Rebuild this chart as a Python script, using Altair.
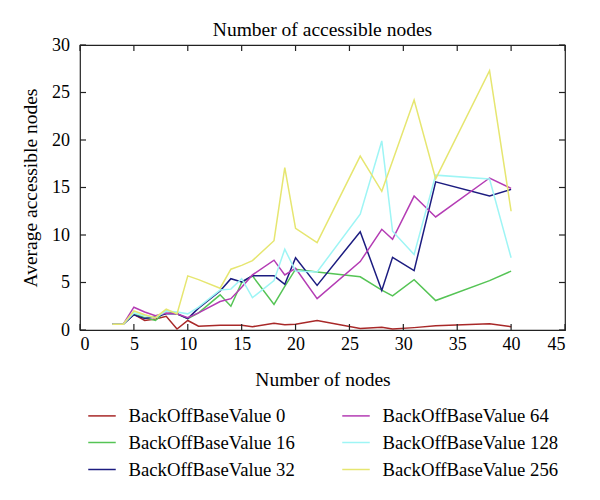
import altair as alt
import pandas as pd

# ---- data ----
nodes = [3, 4, 5, 6, 7, 8, 9, 10, 11, 13, 14, 15, 16, 18, 19, 20, 22, 26, 28, 29, 31, 33, 38, 40]

bobv_0   = [0.6, 0.6, 1.65, 1.0, 1.15, 1.45, 0.1, 1.0, 0.4, 0.5, 0.5, 0.5, 0.35, 0.7, 0.55, 0.6, 1.0, 0.15, 0.3, 0.1, 0.25, 0.45, 0.65, 0.35]
bobv_16  = [0.6, 0.6, 1.7, 1.3, 1.0, 2.0, 1.7, 1.2, 1.8, 3.7, 2.5, 5.0, 5.7, 2.7, 4.6, 6.4, 6.1, 5.6, 4.2, 3.6, 5.3, 3.1, 5.2, 6.2]
bobv_32  = [0.6, 0.6, 1.6, 1.2, 1.4, 1.7, 1.7, 1.2, 2.3, 4.1, 5.4, 5.05, 5.7, 5.7, 4.8, 7.6, 4.7, 10.35, 4.15, 7.65, 6.25, 15.6, 14.1, 14.8]
bobv_64  = [0.6, 0.6, 2.4, 1.9, 1.5, 1.8, 1.7, 1.3, 1.8, 3.0, 3.3, 4.5, 5.8, 7.35, 5.8, 6.5, 3.3, 7.2, 10.6, 9.55, 14.1, 11.9, 16.0, 14.9]
bobv_128 = [0.6, 0.6, 1.8, 1.5, 1.3, 2.0, 1.9, 1.7, 2.4, 4.2, 4.3, 5.4, 3.4, 5.2, 8.5, 6.2, 6.1, 12.2, 19.9, 10.4, 7.95, 16.3, 15.9, 7.6]
bobv_256 = [0.6, 0.6, 2.0, 1.6, 1.3, 2.2, 1.7, 5.7, 5.3, 4.4, 6.4, 6.8, 7.3, 9.4, 17.1, 10.7, 9.2, 18.3, 14.6, 17.8, 24.2, 15.9, 27.3, 12.5]

series_names = ["BackOffBaseValue 0", "BackOffBaseValue 16", "BackOffBaseValue 32",
                "BackOffBaseValue 64", "BackOffBaseValue 128", "BackOffBaseValue 256"]
series_colors = ["#a82828", "#55c455", "#1c1c80", "#b43cb4", "#9ef5f5", "#e6e670"]
series_values = [bobv_0, bobv_16, bobv_32, bobv_64, bobv_128, bobv_256]

x_ticks = [0, 5, 10, 15, 20, 25, 30, 35, 40, 45]
y_ticks = [0, 5, 10, 15, 20, 25, 30]

rows = []
for name, vals in zip(series_names, series_values):
    for x, y in zip(nodes, vals):
        rows.append({"nodes": x, "value": y, "series": name})
df = pd.DataFrame(rows)
xt = pd.DataFrame({"tick": x_ticks})
yt = pd.DataFrame({"tick": y_ticks})

W, H = 485, 285
TL = 6  # tick length
FONT = "Liberation Serif"
xs = alt.Scale(domain=[0, 45], nice=False, zero=False)
ys = alt.Scale(domain=[0, 30], nice=False, zero=False)

x_axis = alt.Axis(values=x_ticks, ticks=False, domain=False, grid=False,
                  labelFontSize=18, labelPadding=5, labelFont=FONT, labelColor="black",
                  title="Number of nodes", titleFontSize=19.5, titleFont=FONT,
                  titleFontWeight="normal", titleColor="black", titlePadding=17)
y_axis = alt.Axis(values=y_ticks, ticks=False, domain=False, grid=False,
                  labelFontSize=18, labelPadding=10.5, labelFont=FONT, labelColor="black",
                  title="Average accessible nodes", titleFontSize=19.5, titleFont=FONT,
                  titleFontWeight="normal", titleColor="black", titlePadding=11.5)

lines = alt.Chart(df).mark_line(strokeWidth=1.5).encode(
    x=alt.X("nodes:Q", scale=xs, axis=x_axis),
    y=alt.Y("value:Q", scale=ys, axis=y_axis),
    color=alt.Color("series:N",
                    scale=alt.Scale(domain=series_names, range=series_colors),
                    legend=alt.Legend(title=None, orient="none", legendX=7.5, legendY=356,
                                      columns=2, columnPadding=43, rowPadding=2,
                                      symbolType="stroke", symbolSize=756, symbolStrokeWidth=1.5,
                                      labelFontSize=18.7, labelFont=FONT, labelColor="black",
                                      labelOffset=12, labelLimit=300)),
)

tick_style = dict(color="#222222", strokeWidth=1.2)
bottom_ticks = alt.Chart(xt).mark_rule(**tick_style).encode(
    x=alt.X("tick:Q", scale=xs, axis=x_axis), y=alt.value(H), y2=alt.value(H - TL))
top_ticks = alt.Chart(xt).mark_rule(**tick_style).encode(
    x=alt.X("tick:Q", scale=xs, axis=x_axis), y=alt.value(0), y2=alt.value(TL))
left_ticks = alt.Chart(yt).mark_rule(**tick_style).encode(
    y=alt.Y("tick:Q", scale=ys, axis=y_axis), x=alt.value(0), x2=alt.value(TL))
right_ticks = alt.Chart(yt).mark_rule(**tick_style).encode(
    y=alt.Y("tick:Q", scale=ys, axis=y_axis), x=alt.value(W - TL), x2=alt.value(W))

chart = alt.layer(lines, bottom_ticks, top_ticks, left_ticks, right_ticks).properties(
    width=W, height=H,
    padding={"left": 12, "top": 11, "right": 5, "bottom": 5},
    title=alt.Title("Number of accessible nodes", fontSize=19.5, font=FONT,
                    fontWeight="normal", color="black", offset=-4, anchor="middle"),
).configure(font=FONT).configure_view(stroke="#222222", strokeWidth=1.2)

chart.save("out.html", embed_options={"renderer": "svg", "actions": False})
